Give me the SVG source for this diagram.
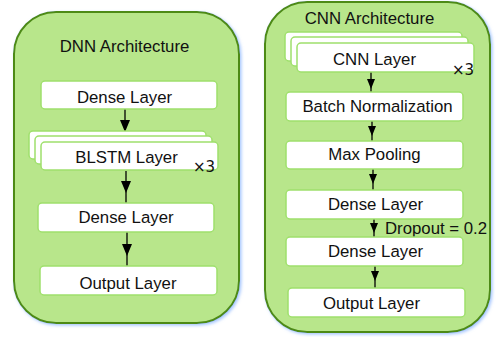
<svg xmlns="http://www.w3.org/2000/svg" width="497" height="337" viewBox="0 0 497 337">
<defs>
<filter id="glow" x="-10%" y="-10%" width="120%" height="120%">
<feDropShadow dx="1.5" dy="1.5" stdDeviation="1.5" flood-color="#8fb8ff" flood-opacity="0.8"/>
</filter>
</defs>
<style>
.cont{fill:#b8e68b;stroke:#4e8a16;stroke-width:2;filter:url(#glow)}
.box{fill:#fff;stroke:#9fe06c;stroke-width:1.5}
.t{font-family:"Liberation Sans",Arial,sans-serif;font-size:16.8px;fill:#111;text-anchor:middle}
.x3{font-family:"DejaVu Sans",sans-serif;font-size:15px;fill:#111;text-anchor:middle}
.ln{stroke:#000;stroke-width:1.3;fill:none}
.hd{fill:#000}
</style>
<g id="dnn-container">
<rect class="cont" x="14" y="12" width="225" height="311" rx="42"/>
<text class="t" x="124.5" y="52">DNN Architecture</text>
</g>
<g id="cnn-container">
<rect class="cont" x="265" y="2" width="225" height="330" rx="42"/>
<text class="t" x="369.5" y="24">CNN Architecture</text>
</g>
<g id="connectors">
<line class="ln" x1="125" y1="109" x2="125" y2="142"/>
<path class="hd" d="M120,120 L130,120 L125,132 Z"/>
<line class="ln" x1="126" y1="171" x2="126" y2="203"/>
<path class="hd" d="M121,181 L131,181 L126,193 Z"/>
<line class="ln" x1="127" y1="232" x2="127" y2="266"/>
<path class="hd" d="M122,244 L132,244 L127,256 Z"/>
<line class="ln" x1="371" y1="72" x2="371" y2="92"/>
<path class="hd" d="M367,79 L375,79 L371,89 Z"/>
<line class="ln" x1="372" y1="121" x2="372" y2="141"/>
<path class="hd" d="M368,126 L376,126 L372,136 Z"/>
<line class="ln" x1="373" y1="169" x2="373" y2="190"/>
<path class="hd" d="M369,174 L377,174 L373,184 Z"/>
<line class="ln" x1="374" y1="219" x2="374" y2="237"/>
<path class="hd" d="M370,223 L378,223 L374,233 Z"/>
<line class="ln" x1="375" y1="266" x2="375" y2="288"/>
<path class="hd" d="M371,271 L379,271 L375,281 Z"/>
<text class="t" x="436" y="234">Dropout = 0.2</text>
</g>
<g id="dnn-dense1">
<rect class="box" x="41" y="81" width="176" height="28" rx="4"/>
<text class="t" x="124.5" y="103">Dense Layer</text>
</g>
<g id="dnn-blstm">
<rect class="box" x="29" y="131" width="177" height="28" rx="4"/>
<rect class="box" x="35" y="136" width="177" height="28" rx="4"/>
<rect class="box" x="41" y="142" width="177" height="28" rx="4"/>
<text class="t" x="126.5" y="163">BLSTM Layer</text>
<text class="x3" x="204" y="172">×3</text>
</g>
<g id="dnn-dense2">
<rect class="box" x="38" y="203" width="176" height="29" rx="4"/>
<text class="t" x="126" y="223">Dense Layer</text>
</g>
<g id="dnn-output">
<rect class="box" x="40" y="266" width="177" height="29" rx="4"/>
<text class="t" x="128" y="289">Output Layer</text>
</g>
<g id="cnn-layer">
<rect class="box" x="285" y="32" width="177" height="29" rx="4"/>
<rect class="box" x="291" y="37" width="177" height="29" rx="4"/>
<rect class="box" x="297" y="43" width="177" height="29" rx="4"/>
<text class="t" x="374.5" y="65">CNN Layer</text>
<text class="x3" x="463" y="75">×3</text>
</g>
<g id="cnn-batchnorm">
<rect class="box" x="286" y="92" width="177" height="29" rx="4"/>
<text class="t" x="377.5" y="112">Batch Normalization</text>
</g>
<g id="cnn-maxpool">
<rect class="box" x="286" y="141" width="177" height="28" rx="4"/>
<text class="t" x="374.5" y="160">Max Pooling</text>
</g>
<g id="cnn-dense1">
<rect class="box" x="286" y="190" width="177" height="29" rx="4"/>
<text class="t" x="375.5" y="210">Dense Layer</text>
</g>
<g id="cnn-dense2">
<rect class="box" x="286" y="237" width="177" height="29" rx="4"/>
<text class="t" x="375.5" y="257">Dense Layer</text>
</g>
<g id="cnn-output">
<rect class="box" x="288" y="288" width="177" height="29" rx="4"/>
<text class="t" x="371.5" y="309">Output Layer</text>
</g>
</svg>
